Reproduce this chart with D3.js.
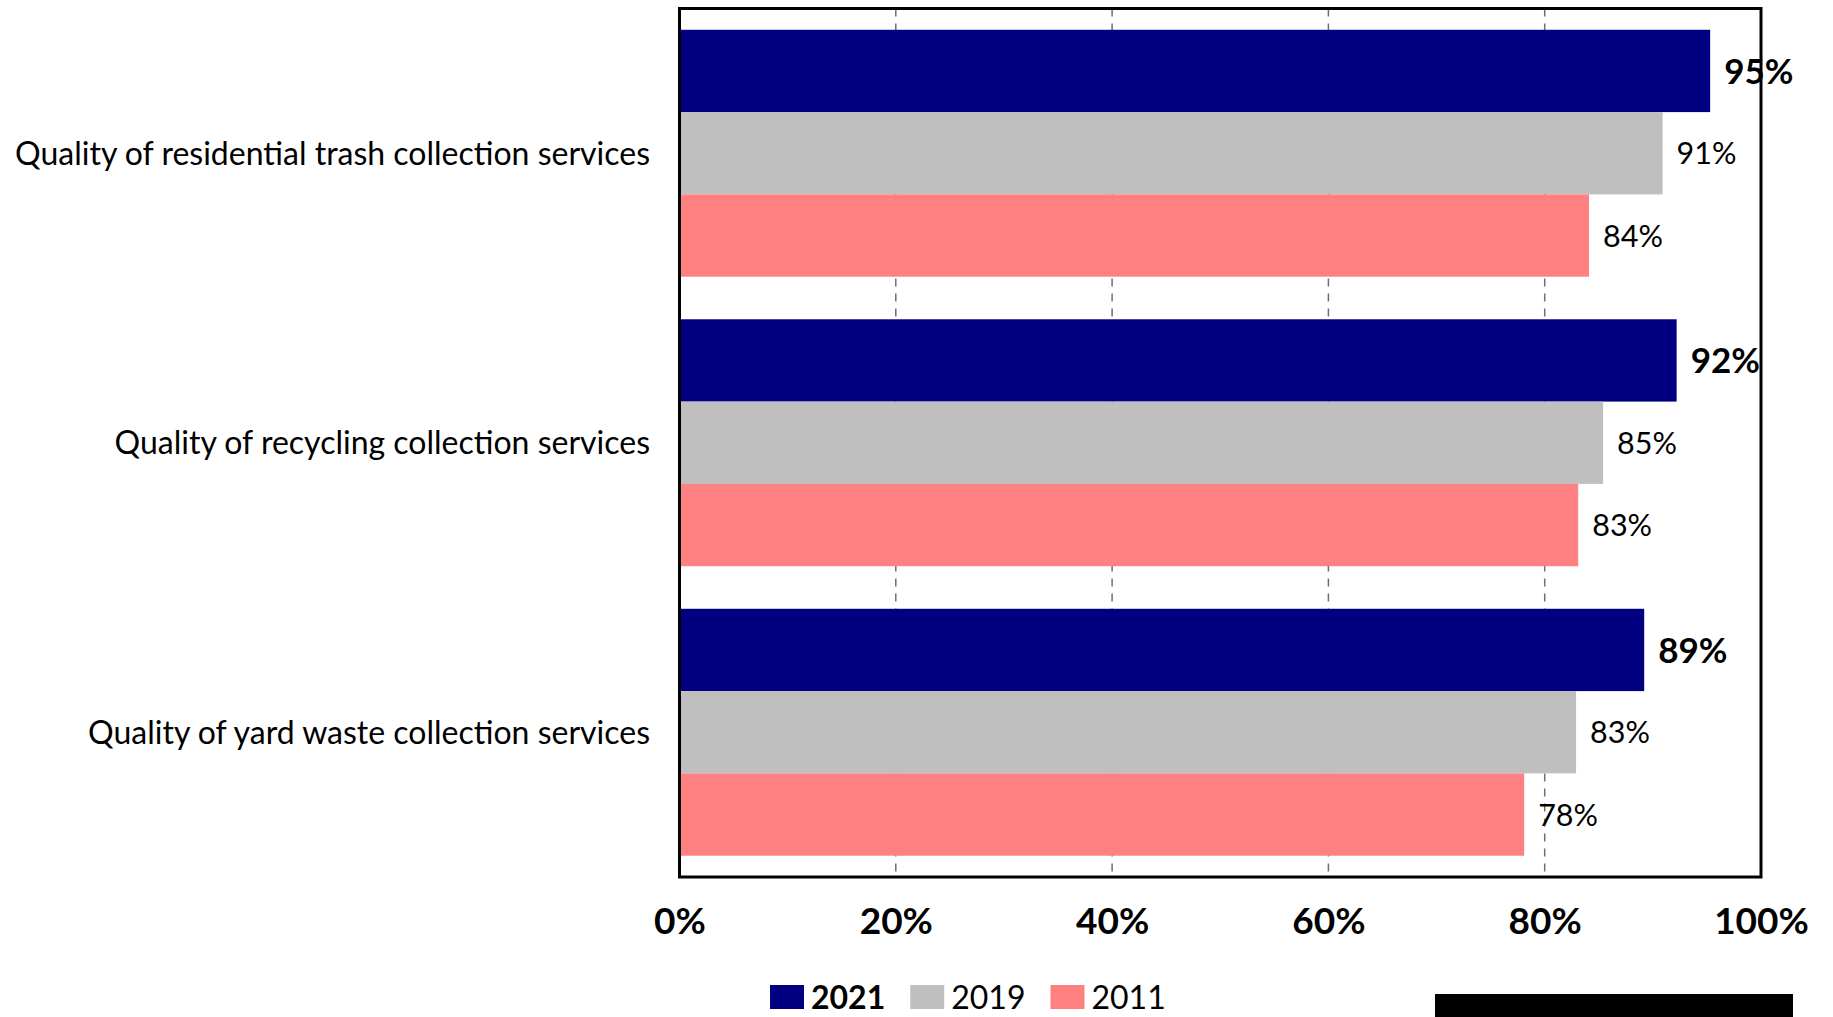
<!DOCTYPE html>
<html>
<head>
<meta charset="utf-8">
<script src="https://cdn.jsdelivr.net/npm/d3@7"></script>
<style>
  html, body { margin: 0; padding: 0; background: #fff; }
  svg { display: block; }
  text { font-family: Lato, "Open Sans", sans-serif; fill: #000; }
</style>
</head>
<body>
<svg id="chart" width="1833" height="1017"></svg>
<script>
const categories = [
  "Quality of residential trash collection services",
  "Quality of recycling collection services",
  "Quality of yard waste collection services"
];
const seriesNames = ["2021", "2019", "2011"];
const values2021 = [95.3, 92.2, 89.2];
const values2019 = [90.9, 85.4, 82.9];
const values2011 = [84.1, 83.1, 78.1];
const tickValues = [0, 20, 40, 60, 80, 100];
const tickLabels = ["0%", "20%", "40%", "60%", "80%", "100%"];
const colors = ["#000080", "#BFBFBF", "#FF8080"];

const seriesValues = [values2021, values2019, values2011];
const rows = [];
categories.forEach((c, i) => {
  seriesNames.forEach((s, j) => rows.push({ cat: c, series: s, value: seriesValues[j][i], si: j }));
});

const svg = d3.select("#chart");
const plot = { left: 679.5, right: 1761, top: 8.5, bottom: 877 };

const x = d3.scaleLinear().domain([0, 100]).range([plot.left, plot.right]);
const y0 = d3.scaleBand().domain(categories).range([plot.top, plot.bottom])
  .paddingInner(0.147).paddingOuter(0.0735);
const y1 = d3.scaleBand().domain(seriesNames).range([0, y0.bandwidth()]);
const color = d3.scaleOrdinal().domain(seriesNames).range(colors);

// gridlines
svg.append("g").selectAll("line")
  .data(tickValues.filter(t => t > 0 && t < 100))
  .join("line")
  .attr("x1", d => x(d)).attr("x2", d => x(d))
  .attr("y1", plot.top).attr("y2", plot.bottom)
  .attr("stroke", "#6e6e6e").attr("stroke-width", 1.5)
  .attr("stroke-dasharray", "8,7");

// bars
svg.append("g").selectAll("rect")
  .data(rows)
  .join("rect")
  .attr("x", x(0))
  .attr("y", d => y0(d.cat) + y1(d.series))
  .attr("width", d => x(d.value) - x(0))
  .attr("height", y1.bandwidth())
  .attr("fill", d => color(d.series));

// plot border
svg.append("rect")
  .attr("x", plot.left).attr("y", plot.top)
  .attr("width", plot.right - plot.left).attr("height", plot.bottom - plot.top)
  .attr("fill", "none").attr("stroke", "#000").attr("stroke-width", 3);

// data labels
svg.append("g").selectAll("text")
  .data(rows)
  .join("text")
  .attr("x", d => x(d.value) + 14)
  .attr("y", d => y0(d.cat) + y1(d.series) + y1.bandwidth() / 2)
  .attr("dy", "0.36em")
  .style("font-size", d => d.si === 0 ? "35px" : "30.5px")
  .style("font-weight", d => d.si === 0 ? "bold" : "normal")
  .text(d => Math.round(d.value) + "%");

// x axis
const xAxis = svg.append("g")
  .attr("transform", `translate(0,${plot.bottom})`)
  .call(d3.axisBottom(x).tickValues(tickValues)
    .tickFormat((d, i) => tickLabels[i]).tickSize(0));
xAxis.select(".domain").remove();
xAxis.selectAll("text")
  .attr("y", 44).attr("dy", "0.36em")
  .style("font-size", "37px").style("font-weight", "bold")
  .style("font-family", "Lato, sans-serif").attr("fill", "#000");

// y axis (category labels)
const yAxis = svg.append("g")
  .attr("transform", `translate(${plot.left},0)`)
  .call(d3.axisLeft(y0).tickSize(0).tickPadding(29.5));
yAxis.select(".domain").remove();
yAxis.selectAll("text")
  .attr("dy", "0.36em")
  .style("font-size", "32px")
  .style("font-family", "Lato, sans-serif").attr("fill", "#000");

// legend
const legend = svg.append("g");
let lx = 770;
seriesNames.forEach((s, i) => {
  const g = legend.append("g");
  g.append("rect").attr("x", lx).attr("y", 985).attr("width", 34).attr("height", 24)
    .attr("fill", color(s));
  const t = g.append("text").attr("x", lx + 41).attr("y", 997).attr("dy", "0.36em")
    .style("font-size", "32px").style("font-weight", i === 0 ? "bold" : "normal")
    .text(s);
  lx += 41 + t.node().getComputedTextLength() + 25;
});

// black bar bottom right
svg.append("rect").attr("x", 1435).attr("y", 994).attr("width", 358).attr("height", 23)
  .attr("fill", "#000");
</script>
</body>
</html>
